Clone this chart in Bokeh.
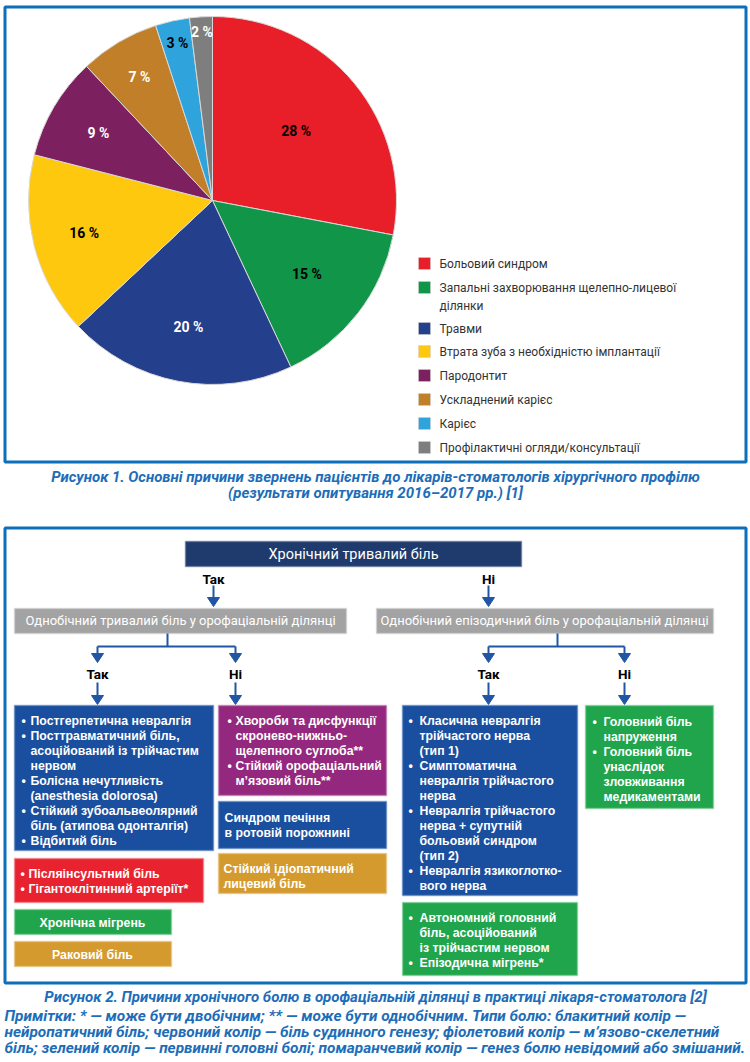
import numpy as np
from bokeh.plotting import figure
from bokeh.models import Range1d, ColumnDataSource
from bokeh.core.properties import value
from bokeh.embed import file_html
from bokeh.resources import INLINE

# ---------------- data ----------------
causes = ["Больовий синдром",
          "Запальні захворювання щелепно-лицевої\nділянки",
          "Травми",
          "Втрата зуба з необхідністю імплантації",
          "Пародонтит",
          "Ускладнений карієс",
          "Карієс",
          "Профілактичні огляди/консультації"]
shares = [28, 15, 20, 16, 9, 7, 3, 2]

caption1 = ["Рисунок 1. Основні причини звернень пацієнтів до лікарів-стоматологів хірургічного профілю",
            "(результати опитування 2016–2017 рр.) [1]"]

fc_title = "Хронічний тривалий біль"
fc_level1 = ["Однобічний тривалий біль у орофаціальній ділянці",
             "Однобічний епізодичний біль у орофаціальній ділянці"]
yes_no = ["Так", "Ні"]
box_neuro_left = ["• Постгерпетична невралгія", "• Посттравматичний біль,", "асоційований із трійчастим",
                  "нервом", "• Болісна нечутливість", "(anesthesia dolorosa)", "• Стійкий зубоальвеолярний",
                  "біль (атипова одонталгія)", "• Відбитий біль"]
box_musc = ["• Хвороби та дисфункції", "скронево-нижньо-", "щелепного суглоба**",
            "• Стійкий орофаціальний", "м’язовий біль**"]
box_burning = ["Синдром печіння", "в ротовій порожнині"]
box_idiop = ["Стійкий ідіопатичний", "лицевий біль"]
box_vasc = ["• Післяінсультний біль", "• Гігантоклітинний артеріїт*"]
box_migr = ["Хронічна мігрень"]
box_cancer = ["Раковий біль"]
box_neuro_right = ["• Класична невралгія", "трійчастого нерва", "(тип 1)", "• Симптоматична",
                   "невралгія трійчастого", "нерва", "• Невралгія трійчастого", "нерва + супутній",
                   "больовий синдром", "(тип 2)", "• Невралгія язикоглотко-", "вого нерва"]
box_headache = ["• Головний біль", "напруження", "• Головний біль", "унаслідок", "зловживання",
                "медикаментами"]
box_tac = ["• Автономний головний", "біль, асоційований", "із трійчастим нервом", "• Епізодична мігрень*"]

caption2 = "Рисунок 2. Причини хронічного болю в орофаціальній ділянці в практиці лікаря-стоматолога [2]"
notes = ["Примітки: * — може бути двобічним; ** — може бути однобічним. Типи болю: блакитний колір —",
         "нейропатичний біль; червоний колір — біль судинного генезу; фіолетовий колір — м’язово-скелетний",
         "біль; зелений колір — первинні головні болі; помаранчевий колір — генез болю невідомий або змішаний."]

# ---------------- styles ----------------
pie_colors = ["#E81F28", "#109549", "#243F8B", "#FEC80F", "#7D2060", "#C27F29", "#2FA3DC", "#7E7E7E"]
pie_label_colors = ["black", "black", "white", "black", "white", "white", "black", "white"]
label_r = [0.59, 0.65, 0.70, 0.72, 0.72, 0.78, 0.875, 0.92]
BORDER = "#0B6FBA"
CAP = "#1D6DB8"
NARROW = "Roboto"
SANS = "Liberation Sans"
BLUE = "#1A4E9E"
PURPLE = "#93287E"
RED = "#E8232F"
GREEN = "#20A54C"
ORANGE = "#D49A2E"
GREY = "#A3A3A3"
NAVY = "#1F3A6C"
ARROW = "#2056A3"
BOX_FS = 12.3

W, H = 748, 1060
p = figure(width=W, height=H, x_range=Range1d(0, W), y_range=Range1d(1062 - H, 1062),
           output_backend="svg", toolbar_location=None, min_border=0,
           x_axis_type=None, y_axis_type=None)
p.grid.visible = False
p.outline_line_color = None
p.background_fill_color = "white"


def Y(yp):
    return 1062 - yp


def txt(xs, ys, texts, size, color, font=NARROW, style="normal", align="left"):
    p.text(x=list(xs), y=[Y(v) for v in ys], text=list(texts), text_font=value(font),
           text_font_size=f"{size}px", text_font_style=style, text_color=color,
           text_align=align, text_baseline="middle")


def box(l, r, t, b, color, edge=None):
    p.quad(left=l, right=r, top=Y(t), bottom=Y(b), fill_color=color,
           line_color=edge if edge else color, line_width=1.5, line_alpha=0.6)


def box_lines(lines, xb, xt, y0, dy=15, size=BOX_FS, color="white"):
    bx, by, tx, ty, tt = [], [], [], [], []
    for i, ln in enumerate(lines):
        yy = y0 + i * dy
        if ln.startswith("• "):
            bx.append(xb); by.append(yy)
            ln = ln[2:]
        tx.append(xt); ty.append(yy); tt.append(ln)
    if bx:
        txt(bx, by, ["•"] * len(bx), size, color, SANS, "bold")
    txt(tx, ty, tt, size, color, SANS, "bold")


def arrow(x, y1, y2, color=ARROW):
    p.segment(x0=[x], y0=[Y(y1)], x1=[x], y1=[Y(y2 - 8)], line_color=color, line_width=2)
    p.patch(x=[x - 6, x + 6, x], y=[Y(y2 - 9), Y(y2 - 9), Y(y2)], fill_color=color, line_color=color)


# ---------------- panel 1 ----------------
p.quad(left=4.5, right=745.5, top=Y(6.5), bottom=Y(461.5), fill_color=None,
       line_color=BORDER, line_width=3)

cx, cy, R = 212, 200, 184
cum = np.concatenate([[0], np.cumsum(shares)]) / 100.0
starts = np.pi / 2 - 2 * np.pi * cum[:-1]
ends = np.pi / 2 - 2 * np.pi * cum[1:]
src = ColumnDataSource(dict(start=starts, end=ends, color=pie_colors))
p.wedge(x=cx, y=Y(cy), radius=R, start_angle="start", end_angle="end", direction="clock",
        fill_color="color", line_color="#d8d8d8", line_width=1, source=src)
mids = (starts + ends) / 2
lx = [cx + R * r * np.cos(m) for r, m in zip(label_r, mids)]
ly = [cy - R * r * np.sin(m) for r, m in zip(label_r, mids)]
for x_, y_, v, c in zip(lx, ly, shares, pie_label_colors):
    txt([x_], [y_], [f"{v} %"], 14, c, NARROW, "bold", "center")

# legend
leg_y = [263, 287, 328, 351, 375, 399, 423, 447]
p.rect(x=[424] * len(leg_y), y=[Y(v) for v in leg_y], width=12, height=12,
       fill_color=pie_colors, line_color="#cfcfcf", line_width=0.5)
lt_x, lt_y, lt_t = [], [], []
for yy, name in zip(leg_y, causes):
    for j, part in enumerate(name.split("\n")):
        lt_x.append(439); lt_y.append(yy + j * 18); lt_t.append(part)
txt(lt_x, lt_y, lt_t, 12, "#333333", NARROW)

txt([375, 375], [476, 492], caption1, 15, CAP, NARROW, "bold italic", "center")

# ---------------- panel 2 ----------------
p.quad(left=4.5, right=745.5, top=Y(527.5), bottom=Y(982.5), fill_color=None,
       line_color=BORDER, line_width=3)

box(185, 521, 541, 566, NAVY, "#5a6f96")
txt([353], [554], [fc_title], 14.5, "white", NARROW, "normal", "center")
txt([213, 488], [578, 578], yes_no, 13.5, "black", NARROW, "bold", "center")
arrow(213, 585, 606)
arrow(488, 585, 606)
box(14, 346, 608, 633, GREY, "#cfcfcf")
box(376, 713, 608, 633, GREY, "#cfcfcf")
txt([180, 544], [620, 620], fc_level1, 13, "white", NARROW, "normal", "center")

# branches
for xc, xl, xr in [(167, 97, 235), (557, 488, 624)]:
    p.segment(x0=[xc], y0=[Y(633)], x1=[xc], y1=[Y(646)], line_color=ARROW, line_width=2)
    p.segment(x0=[xl], y0=[Y(646)], x1=[xr], y1=[Y(646)], line_color=ARROW, line_width=2)
    arrow(xl, 646, 662)
    arrow(xr, 646, 662)
    txt([xl, xr], [673, 673], yes_no, 13.5, "black", NARROW, "bold", "center")
    arrow(xl, 682, 704)
    arrow(xr, 682, 704)

# left column boxes
box(14, 213, 705, 850, BLUE, "#5b86c4")
box_lines(box_neuro_left, 21, 30, 720)
box(218, 386, 705, 795, PURPLE, "#c27bb4")
box_lines(box_musc, 227, 235, 720)
box(218, 386, 801, 848, BLUE, "#5b86c4")
box_lines(box_burning, 224, 224, 817)
box(218, 386, 853, 893, ORANGE, "#e6c27f")
box_lines(box_idiop, 223, 223, 868)
box(14, 203, 858, 902, RED, "#f08088")
box_lines(box_vasc, 20, 28, 873)
box(14, 171, 909, 934, GREEN, "#7fcf98")
txt([92], [922], box_migr, BOX_FS, "white", SANS, "bold", "center")
box(14, 171, 941, 966, ORANGE, "#e6c27f")
txt([92], [954], box_cancer, BOX_FS, "white", SANS, "bold", "center")

# right column boxes
box(402, 577, 705, 895, BLUE, "#5b86c4")
box_lines(box_neuro_right, 408, 419, 720)
box(585, 713, 705, 808, GREEN, "#7fcf98")
box_lines(box_headache, 592, 603, 721)
box(402, 577, 902, 975, GREEN, "#7fcf98")
box_lines(box_tac, 408, 419, 917)

txt([375], [996], [caption2], 15, CAP, NARROW, "bold italic", "center")
txt([4, 4, 4], [1015, 1031, 1047], notes, 15.4, CAP, NARROW, "bold italic", "left")

open("out.html", "w").write(file_html(p, INLINE))
